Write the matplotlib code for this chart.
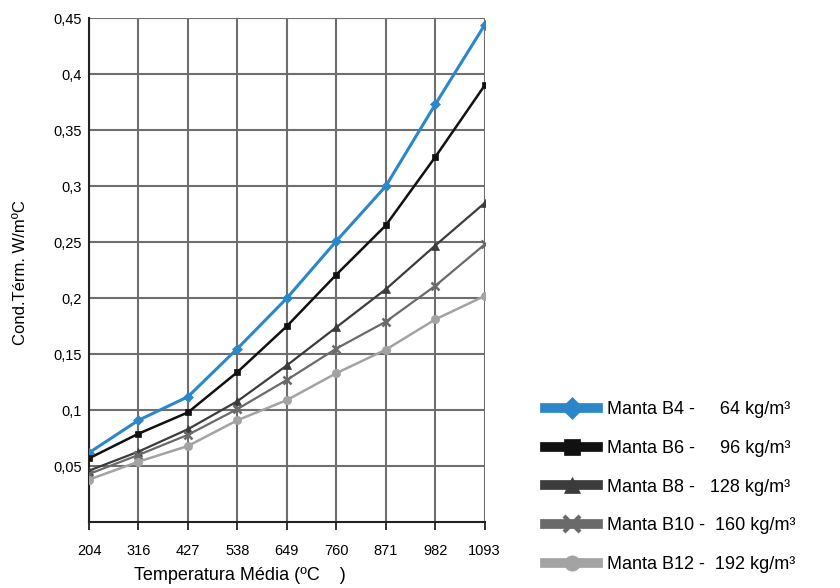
import matplotlib.pyplot as plt
from matplotlib.lines import Line2D

plt.rcParams['font.family'] = ['Liberation Sans', 'DejaVu Sans']

temps = ['204', '316', '427', '538', '649', '760', '871', '982', '1093']
b4 = [0.062, 0.091, 0.112, 0.155, 0.200, 0.251, 0.300, 0.373, 0.444]
b6 = [0.057, 0.079, 0.098, 0.134, 0.175, 0.221, 0.265, 0.326, 0.390]
b8 = [0.046, 0.063, 0.083, 0.108, 0.140, 0.174, 0.208, 0.247, 0.285]
b10 = [0.043, 0.060, 0.078, 0.101, 0.127, 0.155, 0.179, 0.211, 0.248]
b12 = [0.038, 0.054, 0.068, 0.091, 0.109, 0.133, 0.154, 0.181, 0.202]
labels = ['Manta B4 -     64 kg/m³', 'Manta B6 -     96 kg/m³',
          'Manta B8 -   128 kg/m³', 'Manta B10 -  160 kg/m³',
          'Manta B12 -  192 kg/m³']
yticks = [0.05, 0.1, 0.15, 0.2, 0.25, 0.3, 0.35, 0.4, 0.45]

series = [b4, b6, b8, b10, b12]
colors = ['#2b87c9', '#111111', '#3c3c3c', '#6a6a6a', '#a3a3a3']
markers = ['D', 's', '^', 'x', 'o']
msizes = [5, 5, 6, 6, 6]
lws = [2.2, 1.8, 1.6, 1.6, 1.8]

fig = plt.figure(figsize=(8.4, 5.88), dpi=100)
ax = fig.add_axes([0.106, 0.112, 0.471, 0.857])

x = list(range(len(temps)))
for s, c, m, ms, lw in zip(series, colors, markers, msizes, lws):
    ax.plot(x, s, color=c, marker=m, markersize=ms, lw=lw,
            markeredgewidth=1.8 if m == 'x' else 0.5, zorder=3)

ax.set_xlim(0, len(temps) - 1)
ax.set_ylim(0, 0.45)
ax.set_xticks(x)
ax.set_xticklabels(temps, fontsize=10.5)
ax.set_yticks(yticks)
ax.set_yticklabels([('%g' % v).replace('.', ',') for v in yticks], fontsize=10.5)
ax.grid(True, color='#6e6e6e', lw=1.5, zorder=0)
ax.tick_params(axis='y', length=0, pad=5)
ax.tick_params(axis='x', length=6, width=1.3, color='#222222', pad=10)
for side in ['top', 'right']:
    ax.spines[side].set_visible(False)
for side in ['left', 'bottom']:
    ax.spines[side].set_color('#222222')
    ax.spines[side].set_linewidth(1.5)

ax.set_ylabel('Cond.Térm. W/mºC', fontsize=12, va='center')
ax.yaxis.set_label_coords(-0.172, 0.496)
ax.set_xlabel('Temperatura Média (ºC    )', fontsize=13)
ax.xaxis.set_label_coords(0.381, -0.089)

handles = [Line2D([], [], color=c, marker=m, lw=7, markersize=11,
                  markeredgewidth=3 if m == 'x' else 0.5)
           for c, m in zip(colors, markers)]
fig.legend(handles, labels, loc='upper left', bbox_to_anchor=(0.63, 0.345),
           frameon=False, fontsize=13, handlelength=2.9, labelspacing=1.2,
           handletextpad=0.5)

fig.savefig('out.png', dpi=100)
